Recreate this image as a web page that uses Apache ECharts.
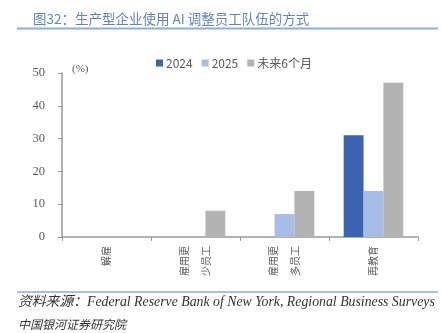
<!DOCTYPE html>
<html>
<head>
<meta charset="utf-8">
<script src="https://cdn.jsdelivr.net/npm/echarts@6/dist/echarts.min.js"></script>
<style>
html,body{margin:0;padding:0;background:#fff;}
#chart{width:441px;height:333px;}
</style>
</head>
<body>
<div id="chart"></div>
<script>
// Ways production firms use AI to adjust their workforce (%)
const categories = ['解雇', '雇用更\n少员工', '雇用更\n多员工', '再教育'];
const seriesNames = ['2024', '2025', '未来6个月'];
const values2024 = [0, 0, 0, 31];
const values2025 = [0, 0, 7, 14];
const valuesNext6m = [0, 8, 14, 47];
const yTicks = [0, 10, 20, 30, 40, 50];

const colors = ['#3a64b0', '#a6bde6', '#b3b3b3'];
const cjk = '"Noto Sans CJK SC", sans-serif';
const serif = '"Liberation Serif", "DejaVu Serif", serif';

const chart = echarts.init(document.getElementById('chart'));
const mk = (name, data, i) => ({
  name, type: 'bar', data,
  barGap: '0%', barCategoryGap: '33%',
  itemStyle: { color: colors[i] },
  emphasis: { disabled: true }
});

chart.setOption({
  animation: false,
  title: {
    text: '图32：生产型企业使用 AI 调整员工队伍的方式',
    left: 28, top: 7,
    textStyle: { fontFamily: cjk, fontSize: 13.5, fontWeight: 'normal', color: '#6583bb' }
  },
  legend: {
    data: seriesNames,
    left: 151, top: 52,
    itemWidth: 7, itemHeight: 7, itemGap: 9,
    icon: 'rect',
    textStyle: { fontFamily: cjk, fontSize: 12, color: '#595959', padding: [0, 0, 0, -2] }
  },
  grid: { left: 62, right: 23, top: 73, bottom: 96 },
  xAxis: {
    type: 'category', data: categories,
    axisLine: { lineStyle: { color: '#999', width: 1.5 } },
    axisTick: { show: true, length: 4, lineStyle: { color: '#999' } },
    axisLabel: { rotate: 90, fontFamily: cjk, fontSize: 10, color: '#595959', margin: 9, lineHeight: 22 }
  },
  yAxis: {
    type: 'value', min: yTicks[0], max: yTicks[yTicks.length - 1], interval: 10,
    name: '(%)', nameLocation: 'end', nameGap: -2,
    nameTextStyle: { fontFamily: serif, fontSize: 11, color: '#595959', align: 'left', padding: [0, 0, 0, 10] },
    axisLine: { show: true, lineStyle: { color: '#999', width: 1.5 } },
    axisTick: { show: true, length: 4, lineStyle: { color: '#999' } },
    splitLine: { show: false },
    axisLabel: { fontFamily: serif, fontSize: 12.5, color: '#595959', margin: 17 }
  },
  series: [
    mk(seriesNames[0], values2024, 0),
    mk(seriesNames[1], values2025, 1),
    mk(seriesNames[2], valuesNext6m, 2)
  ],
  graphic: [
    { type: 'line', shape: { x1: 17, y1: 28.5, x2: 438, y2: 28.5 }, style: { stroke: '#8faadc', lineWidth: 2 } },
    { type: 'line', shape: { x1: 17, y1: 292, x2: 438, y2: 292 }, style: { stroke: '#8faadc', lineWidth: 1.5 } },
    { type: 'text', left: 18, top: 295, style: { text: '资料来源：Federal Reserve Bank of New York, Regional Business Surveys', font: 'italic 13.8px "Liberation Serif", "Noto Sans CJK SC", serif', fill: '#333' } },
    { type: 'text', left: 18, top: 318, style: { text: '中国银河证券研究院', font: 'italic 12px "Noto Sans CJK SC", sans-serif', fill: '#333' } }
  ]
});
</script>
</body>
</html>
